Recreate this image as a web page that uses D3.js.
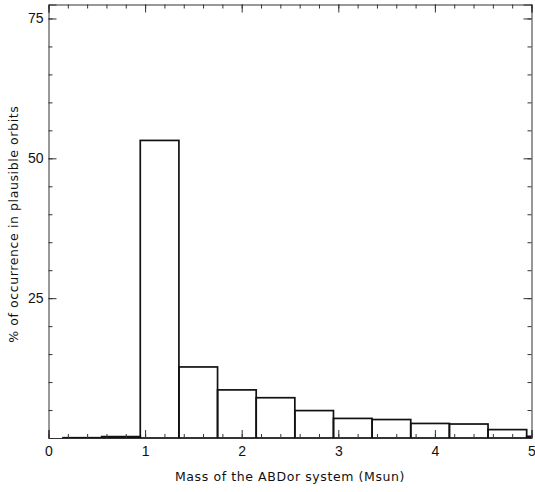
<!DOCTYPE html>
<html lang="en">
  <head>
    <meta charset="UTF-8" />
    <script src="https://cdn.jsdelivr.net/npm/d3@7/dist/d3.min.js"></script>
    <style>
      body {
        margin: 0;
        background: #fff;
      }
      text {
        font-family: "DejaVu Sans", sans-serif;
        fill: #111;
      }
      .tick text {
        font-family: "Liberation Sans", sans-serif;
      }
    </style>
  </head>
  <body>
    <div id="chart"></div>
    <script>
      // histogram bins (left edge, width 0.4) and percentages
      const binStarts = [0.15, 0.55, 0.95, 1.35, 1.75, 2.15, 2.55, 2.95, 3.35, 3.75, 4.15, 4.55, 4.95];
      const binWidth = 0.4;
      const percents = [0.05, 0.25, 53.2, 12.7, 8.6, 7.2, 4.9, 3.5, 3.3, 2.6, 2.5, 1.5, 0.3];
      const xTicks = [0, 1, 2, 3, 4, 5];
      const yTicks = [25, 50, 75];

      const W = 535, H = 492;
      const m = { left: 48.5, right: 3.5, top: 4.5, bottom: 54 };

      const svg = d3.select("#chart").append("svg").attr("width", W).attr("height", H);

      const x = d3.scaleLinear().domain([0, 5]).range([m.left, W - m.right]);
      const y = d3.scaleLinear().domain([0, 77.5]).range([H - m.bottom, m.top]);

      svg.append("defs").append("clipPath").attr("id", "clip")
        .append("rect")
        .attr("x", m.left).attr("y", m.top)
        .attr("width", W - m.left - m.right).attr("height", H - m.top - m.bottom);

      const data = binStarts.map((s, i) => ({ x0: s, x1: s + binWidth, v: percents[i] }));

      svg.append("g").attr("clip-path", "url(#clip)")
        .selectAll("rect")
        .data(data)
        .join("rect")
        .attr("x", (d) => x(d.x0))
        .attr("y", (d) => y(d.v))
        .attr("width", (d) => x(d.x1) - x(d.x0))
        .attr("height", (d) => y(0) - y(d.v))
        .attr("fill", "none")
        .attr("stroke", "#111")
        .attr("stroke-width", 1.7);

      const minorX = d3.range(0, 5.001, 0.2);
      const minorY = d3.range(0, 77.5, 5);
      const axisCol = "#333";

      // bottom axis: ticks point inward
      const bottom = d3.axisBottom(x).tickValues(xTicks).tickSize(-8).tickPadding(8).tickFormat(d3.format("d"));
      const gb = svg.append("g").attr("transform", `translate(0,${y(0)})`).call(bottom);
      gb.selectAll(".tick line").attr("stroke", axisCol);
      gb.select(".domain").attr("stroke", axisCol);
      gb.selectAll("text").attr("font-size", 14);
      svg.append("g").attr("transform", `translate(0,${y(0)})`)
        .call(d3.axisBottom(x).tickValues(minorX).tickSize(-4).tickFormat(""))
        .call((g) => g.select(".domain").remove())
        .selectAll("line").attr("stroke", axisCol);

      // top axis
      const gt = svg.append("g").attr("transform", `translate(0,${m.top})`)
        .call(d3.axisTop(x).tickValues(xTicks).tickSize(-8).tickFormat(""));
      gt.selectAll("line").attr("stroke", axisCol);
      gt.select(".domain").attr("stroke", axisCol);
      svg.append("g").attr("transform", `translate(0,${m.top})`)
        .call(d3.axisTop(x).tickValues(minorX).tickSize(-4).tickFormat(""))
        .call((g) => g.select(".domain").remove())
        .selectAll("line").attr("stroke", axisCol);

      // left axis
      const gl = svg.append("g").attr("transform", `translate(${m.left},0)`)
        .call(d3.axisLeft(y).tickValues(yTicks).tickSize(-8).tickPadding(5));
      gl.selectAll("line").attr("stroke", axisCol);
      gl.select(".domain").attr("stroke", axisCol);
      gl.selectAll("text").attr("font-size", 14);
      svg.append("g").attr("transform", `translate(${m.left},0)`)
        .call(d3.axisLeft(y).tickValues(minorY).tickSize(-4).tickFormat(""))
        .call((g) => g.select(".domain").remove())
        .selectAll("line").attr("stroke", axisCol);

      // right axis
      const gr = svg.append("g").attr("transform", `translate(${W - m.right},0)`)
        .call(d3.axisRight(y).tickValues(yTicks).tickSize(-8).tickFormat(""));
      gr.selectAll("line").attr("stroke", axisCol);
      gr.select(".domain").attr("stroke", axisCol);
      svg.append("g").attr("transform", `translate(${W - m.right},0)`)
        .call(d3.axisRight(y).tickValues(minorY).tickSize(-4).tickFormat(""))
        .call((g) => g.select(".domain").remove())
        .selectAll("line").attr("stroke", axisCol);

      // titles
      svg.append("text")
        .attr("x", (x(0) + x(5)) / 2)
        .attr("y", 481)
        .attr("text-anchor", "middle")
        .attr("font-size", 12.5)
        .attr("letter-spacing", 0.6)
        .text("Mass of the ABDor system (Msun)");

      svg.append("text")
        .attr("transform", `translate(18,${(y(0) + m.top) / 2 + 3}) rotate(-90)`)
        .attr("text-anchor", "middle")
        .attr("font-size", 12.5)
        .attr("letter-spacing", 0.6)
        .text("% of occurrence in plausible orbits");
    </script>
  </body>
</html>
